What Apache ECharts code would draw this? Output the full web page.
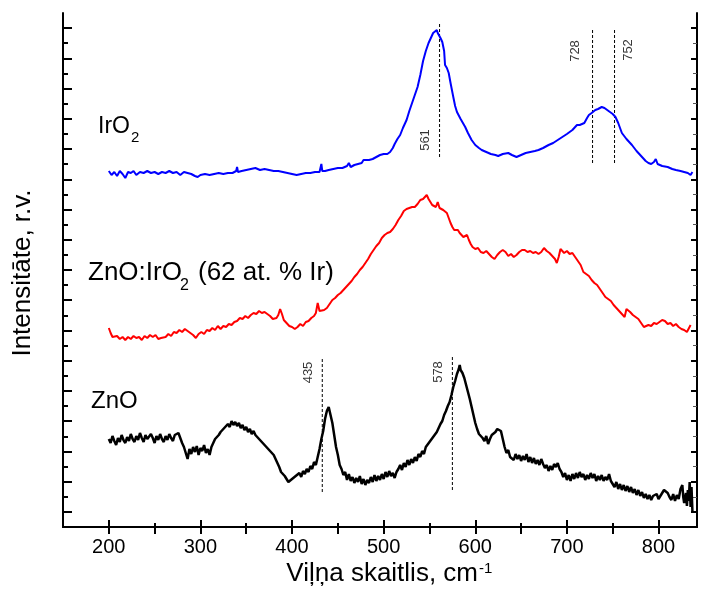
<!DOCTYPE html>
<html>
<head>
<meta charset="utf-8">
<script src="https://cdn.jsdelivr.net/npm/echarts@6/dist/echarts.min.js"></script>
<style>html,body{margin:0;padding:0;background:#fff}#c{width:701px;height:599px}</style>
</head>
<body>
<div id="c"></div>
<script>
// ---- data: [wavenumber cm^-1, intensity (a.u., stacked offset)] ----
const irO2 = [[200,356],[203,352],[206,355],[209,351],[212,356],[215,353],[218,349],[221,355],[224,354],[227,356],[230,352],[234,355],[238,354],[242,356],[246,354],[250,355],[254,353],[258,355],[262,354],[266,356],[270,354],[274,355],[278,352],[282,355],[286,354],[290,353],[294,351],[297,350],[300,352],[305,353],[310,352],[315,353],[320,354],[325,353],[330,354],[335,354],[339,356],[340,360],[341,355],[345,356],[350,357],[355,358],[360,359],[365,357],[370,358],[375,357],[380,356],[385,356],[390,355],[395,354],[400,353],[405,352],[410,353],[415,354],[420,354],[425,355],[430,355],[432,363],[433,356],[436,356],[440,357],[445,358],[450,359],[455,359],[460,361],[462,364],[464,360],[468,362],[472,363],[476,364],[478,367],[480,365],[484,367],[488,368],[492,370],[496,372],[500,373],[504,373],[507,375],[510,379],[512,383],[515,388],[518,392],[521,399],[525,407],[528,416],[531,424],[534,432],[537,440],[540,452],[543,466],[546,476],[549,484],[552,490],[554,494],[556,496],[558,497],[559,494],[560,496],[562,489],[564,485],[566,476],[567,462],[569,459],[571,454],[573,444],[576,430],[578,421],[580,415],[584,408],[589,400],[592,394],[596,387],[600,382],[604,379],[607,377],[612,375],[617,373],[622,372],[625,371],[630,373],[636,374],[640,372],[645,370],[650,372],[655,374],[660,375],[665,376],[669,377],[674,379],[680,382],[685,384],[690,387],[695,390],[700,393],[706,397],[711,402],[714,402],[716,401],[719,404],[722,409],[724,412],[727,414],[731,417],[734,418],[738,420],[741,419],[744,417],[746,415],[750,413],[753,410],[756,404],[760,394],[765,388],[771,382],[776,376],[782,370],[786,366],[789,364],[792,363],[795,365],[797,368],[799,363],[804,361],[810,360],[815,358],[819,357],[824,356],[828,355],[832,354],[835,352],[837,355]];

const znoIrO2 = [[200,199],[202,194],[204,190],[206,188],[209,191],[212,188],[215,190],[218,187],[221,190],[224,188],[227,191],[230,189],[233,190],[236,187],[239,191],[242,189],[245,192],[248,190],[251,192],[254,188],[257,189],[259,187],[262,190],[265,193],[268,191],[271,195],[274,194],[277,197],[280,195],[283,198],[286,196],[289,194],[292,192],[295,189],[298,193],[301,195],[304,193],[307,197],[310,196],[313,199],[316,197],[319,201],[322,198],[325,201],[328,200],[331,203],[334,202],[337,205],[340,206],[343,209],[346,208],[349,211],[352,209],[355,212],[358,214],[361,213],[364,216],[367,214],[370,215],[373,213],[376,211],[379,208],[381,206],[383,209],[385,212],[387,218],[388,220],[389,213],[391,207],[394,204],[397,201],[400,200],[403,198],[406,200],[409,203],[412,201],[415,205],[418,206],[421,209],[424,211],[426,214],[428,224],[430,216],[432,214],[435,217],[438,219],[441,223],[444,227],[447,229],[450,232],[453,234],[456,237],[459,240],[462,243],[465,246],[468,250],[471,253],[474,257],[477,260],[480,264],[483,268],[486,273],[489,277],[492,281],[495,284],[498,289],[501,292],[504,294],[507,295],[510,298],[513,302],[516,307],[519,311],[522,316],[525,318],[528,319],[531,320],[534,320],[537,323],[540,327],[543,328],[545,330],[547,332],[549,328],[551,326],[553,322],[555,324],[557,320],[559,325],[561,319],[563,318],[565,317],[567,318],[569,314],[571,309],[573,304],[575,300],[577,297],[579,295],[581,297],[583,294],[585,292],[587,290],[589,289],[591,292],[593,287],[595,283],[597,280],[600,278],[603,279],[606,275],[609,274],[612,276],[615,273],[618,270],[621,268],[624,272],[627,275],[630,277],[633,275],[636,271],[639,273],[642,270],[645,272],[648,275],[651,277],[654,277],[657,275],[660,276],[663,274],[666,275],[669,273],[672,275],[675,279],[678,276],[681,274],[684,271],[687,268],[689,264],[691,270],[693,278],[695,276],[697,274],[700,276],[703,273],[706,274],[709,270],[712,266],[715,262],[718,255],[721,253],[724,251],[727,247],[730,244],[733,242],[736,238],[739,234],[742,230],[745,228],[748,226],[751,222],[754,219],[757,216],[760,213],[763,210],[765,218],[767,220],[769,215],[772,212],[775,210],[778,208],[781,204],[784,200],[786,198],[789,202],[792,201],[795,204],[798,203],[801,205],[804,207],[807,206],[810,203],[813,204],[816,201],[819,203],[822,200],[825,198],[828,197],[831,195],[833,196],[835,202]];

const zno = [[200,88],[202,84],[204,91],[206,86],[208,82],[210,89],[212,85],[214,92],[216,87],[218,84],[220,90],[222,86],[224,93],[226,88],[228,85],[230,91],[232,87],[234,94],[236,89],[238,85],[240,92],[242,88],[244,86],[246,93],[248,89],[250,84],[252,91],[254,87],[256,93],[258,88],[260,85],[262,91],[264,87],[266,93],[268,89],[270,86],[272,92],[274,90],[276,94],[278,89],[280,84],[282,80],[284,74],[286,68],[288,78],[290,73],[292,80],[294,75],[296,81],[298,72],[300,79],[302,76],[304,82],[306,74],[308,78],[310,72],[312,80],[314,84],[316,88],[318,86],[320,92],[322,95],[324,93],[326,99],[328,97],[330,103],[332,100],[334,106],[336,102],[338,105],[340,101],[342,104],[344,99],[346,102],[348,97],[350,100],[352,95],[354,98],[356,93],[358,96],[360,92],[362,94],[364,88],[366,90],[368,84],[370,86],[372,80],[374,82],[376,76],[378,78],[380,72],[382,70],[384,64],[386,60],[388,55],[390,57],[392,51],[394,48],[396,45],[398,43],[400,48],[402,46],[404,51],[406,49],[408,54],[410,50],[412,56],[414,53],[416,58],[418,55],[420,61],[422,58],[424,65],[426,62],[428,70],[430,78],[432,88],[434,96],[436,108],[438,116],[440,120],[442,112],[444,104],[446,92],[448,80],[450,72],[452,62],[454,58],[456,52],[458,55],[460,47],[462,53],[464,46],[466,50],[468,44],[470,49],[472,45],[474,51],[476,43],[478,48],[480,42],[482,47],[484,44],[486,50],[488,45],[490,52],[492,46],[494,51],[496,47],[498,53],[500,48],[502,55],[504,50],[506,56],[508,51],[510,54],[512,49],[514,55],[516,58],[518,62],[520,57],[522,64],[524,60],[526,67],[528,62],[530,68],[532,64],[534,70],[536,66],[538,73],[540,70],[542,76],[544,73],[546,80],[548,78],[550,85],[552,83],[554,90],[556,88],[558,95],[560,97],[562,103],[564,106],[566,112],[568,116],[570,121],[572,125],[574,132],[576,140],[578,146],[580,153],[582,158],[583,162],[584,157],[586,154],[588,149],[590,142],[592,135],[594,128],[596,120],[598,112],[600,104],[602,98],[604,93],[606,95],[608,89],[610,86],[612,91],[614,83],[616,88],[618,92],[620,90],[622,95],[624,98],[626,100],[628,96],[630,88],[632,80],[634,74],[636,77],[638,70],[640,72],[642,67],[644,73],[646,68],[648,72],[650,66],[652,71],[654,67],[656,73],[658,65],[660,70],[662,64],[664,69],[666,63],[668,67],[670,62],[672,68],[674,63],[676,59],[678,62],[680,56],[682,61],[684,57],[686,63],[688,60],[690,64],[692,58],[694,55],[696,50],[698,54],[700,47],[702,52],[704,46],[706,53],[708,48],[710,54],[712,49],[714,55],[716,50],[718,53],[720,47],[722,52],[724,48],[726,54],[728,49],[730,53],[732,46],[734,51],[736,47],[738,52],[740,46],[742,50],[744,47],[746,53],[748,46],[750,44],[752,40],[754,45],[756,38],[758,43],[760,37],[762,42],[764,36],[766,41],[768,35],[770,40],[772,34],[774,38],[776,32],[778,37],[780,31],[782,35],[784,29],[786,33],[788,28],[790,32],[792,27],[794,31],[796,29],[798,33],[800,28],[802,31],[804,34],[806,37],[808,38],[810,34],[812,30],[814,27],[816,33],[818,26],[820,32],[822,28],[824,38],[826,42],[827,30],[828,24],[830,34],[831,21],[832,37],[833,26],[834,45],[835,20],[836,40],[837,16]];

// peak marker lines: [position, yFrom, yTo]
const peakLines = [[561,370,504],[728,364,499],[752,364,499],[433,35,170],[575,37,172]];
// peak labels: [text, x, y]
const peakLabels = [['561',546,387],['728',709,476],['752',767,477],['435',417.5,154.5],['578',560,155]];

const xTickLabels = [200,300,400,500,600,700,800];
const xMinorTicks = [250,350,450,550,650,750];
const xTopTicks = [200,250,300,350,400,450,500,550,600,650,700,750,800];
const xMin = 150, xMax = 842, yMin = 0, yMax = 514, yTickCount = 34;

const yStep = (yMax - yMin) / yTickCount;
const yMajor = [], yMinor = [];
for (let i = 1; i < yTickCount; i++) (i % 2 ? yMajor : yMinor).push(yMin + i * yStep);

const FONT = '"Liberation Sans", Arial, sans-serif';
const chart = echarts.init(document.getElementById('c'), null, {renderer: 'canvas'});

function xAx(extra) {
  return Object.assign({type: 'value', min: xMin, max: xMax, splitLine: {show: false},
    axisLine: {show: false}, axisLabel: {show: false}, axisTick: {show: false}}, extra);
}
function yAx(extra) {
  return Object.assign({type: 'value', min: yMin, max: yMax, splitLine: {show: false},
    axisLine: {show: false}, axisLabel: {show: false}, axisTick: {show: false}}, extra);
}

const series = [
  {type: 'line', data: zno, showSymbol: false, symbol: 'none', lineStyle: {color: '#000', width: 2.5}, z: 3},
  {type: 'line', data: znoIrO2, showSymbol: false, symbol: 'none', lineStyle: {color: '#ff0000', width: 2}, z: 3},
  {type: 'line', data: irO2, showSymbol: false, symbol: 'none', lineStyle: {color: '#0000ff', width: 2}, z: 3}
];
peakLines.forEach(p => series.push({type: 'line', data: [[p[0], p[1]], [p[0], p[2]]], showSymbol: false, symbol: 'none',
  lineStyle: {color: '#000', width: 1, type: [3, 2]}, z: 2}));
series.push({type: 'scatter', symbolSize: 0, data: peakLabels.map(l => ({name: l[0], value: [l[1], l[2]]})),
  label: {show: true, position: 'inside', rotate: 90, formatter: '{b}', color: '#000', fontSize: 13, fontFamily: FONT}});

const T = (text, x, y, size, extra) => Object.assign({type: 'text', x: x, y: y,
  style: {text: text, font: size + 'px ' + FONT, fill: '#000', textAlign: 'left', textVerticalAlign: 'middle', align: 'left', verticalAlign: 'middle'}}, extra || {});

chart.setOption({
  animation: false,
  backgroundColor: '#fff',
  grid: {left: 63, right: 4, top: 13, bottom: 72, containLabel: false},
  xAxis: [
    xAx({position: 'bottom', axisLine: {show: true, lineStyle: {color: '#000', width: 2}},
      axisLabel: {show: true, customValues: xTickLabels, color: '#000', fontSize: 20, fontFamily: FONT, margin: 10},
      axisTick: {show: true, inside: true, length: 7, customValues: xTickLabels, lineStyle: {color: '#000', width: 2}}}),
    xAx({position: 'bottom', axisTick: {show: true, inside: true, length: 4, customValues: xMinorTicks, lineStyle: {color: '#000', width: 2}}}),
    xAx({position: 'top', axisLine: {show: true, lineStyle: {color: '#000', width: 2}},
      axisTick: {show: true, inside: true, length: 7, customValues: xTopTicks, lineStyle: {color: '#000', width: 2}}})
  ],
  yAxis: [
    yAx({position: 'left', axisLine: {show: true, lineStyle: {color: '#000', width: 2}},
      axisTick: {show: true, inside: true, length: 9, customValues: yMajor, lineStyle: {color: '#000', width: 2}}}),
    yAx({position: 'left', axisTick: {show: true, inside: true, length: 5, customValues: yMinor, lineStyle: {color: '#000', width: 2}}}),
    yAx({position: 'right', axisLine: {show: true, lineStyle: {color: '#000', width: 2}},
      axisTick: {show: true, inside: true, length: 6, customValues: yMajor, lineStyle: {color: '#000', width: 2}}}),
    yAx({position: 'right', axisTick: {show: true, inside: true, length: 4, customValues: yMinor, lineStyle: {color: '#555', width: 1}}})
  ],
  series: series,
  graphic: [
    T('IrO', 98, 126.5, 23),
    T('2', 131, 137.5, 15),
    T('ZnO:IrO', 88, 272.5, 26),
    T('2', 180, 285.5, 16),
    T('(62 at. % Ir)', 198, 272.5, 26),
    T('ZnO', 91, 401.5, 24),
    T('Intensitāte, r.v.', 23, 273, 26, {rotation: Math.PI / 2, style: {text: 'Intensitāte, r.v.', font: '26px ' + FONT, fill: '#000', textAlign: 'center', textVerticalAlign: 'middle', align: 'center', verticalAlign: 'middle'}}),
    T('Viļņa skaitlis, cm', 478, 574, 26, {style: {text: 'Viļņa skaitlis, cm', font: '26px ' + FONT, fill: '#000', textAlign: 'right', textVerticalAlign: 'middle', align: 'right', verticalAlign: 'middle'}}),
    T('-1', 479, 569, 15)
  ]
});
</script>
</body>
</html>
